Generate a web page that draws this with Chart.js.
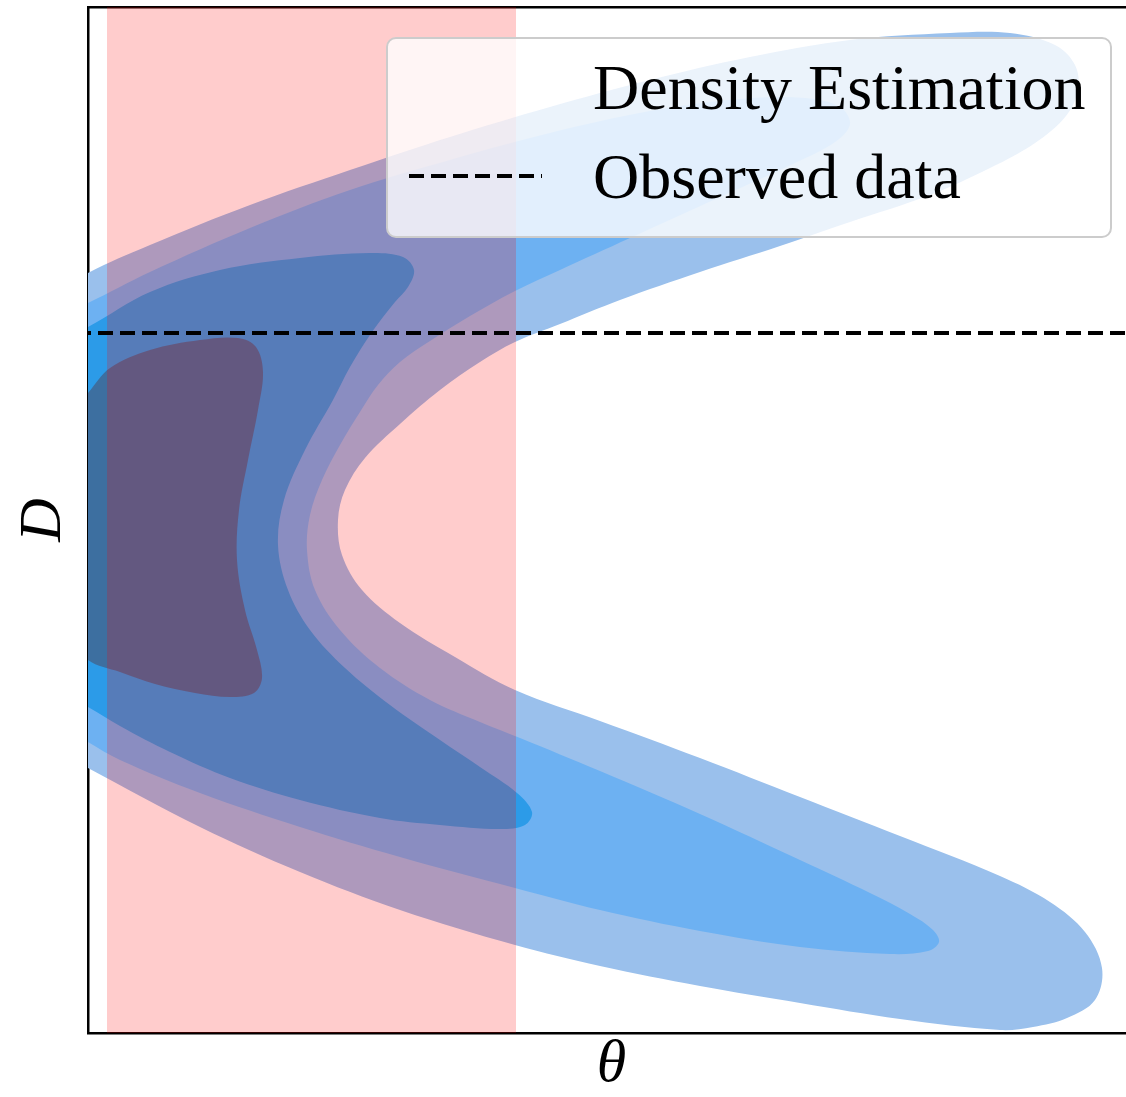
<!DOCTYPE html>
<html>
<head>
<meta charset="utf-8">
<script src="https://cdn.jsdelivr.net/npm/chart.js@4.4.0/dist/chart.umd.min.js"></script>
<style>
    html, body { margin: 0; padding: 0; background: #fff; overflow: hidden; }
</style>
</head>
<body>
<canvas id="kdeCanvas" width="1140" height="1097"></canvas>
<script>
// density estimate contours, outer -> inner, as [theta, D] pairs
var level1 = [
    [-0.48, 5.13], [-0.43, 7.33], [0, 7.60], [0.62, 7.88], [1.62, 8.28], [2.62, 8.63],
    [3.62, 8.96], [4.62, 9.26], [5.62, 9.53], [6.62, 9.76], [7.62, 9.93], [8.62, 10.00],
    [9.22, 10.00], [9.67, 9.88], [9.87, 9.68], [9.90, 9.43], [9.78, 9.17], [9.47, 8.90],
    [9.02, 8.65], [8.42, 8.38], [7.62, 8.11], [6.92, 7.87], [6.12, 7.61], [5.32, 7.33],
    [4.72, 7.09], [4.27, 6.91], [3.92, 6.71], [3.52, 6.43], [3.12, 6.09], [2.77, 5.75],
    [2.57, 5.43], [2.50, 5.13], [2.54, 4.78], [2.74, 4.43], [3.12, 4.10], [3.67, 3.76],
    [4.27, 3.43], [5.12, 3.12], [6.12, 2.75], [7.12, 2.36], [8.12, 1.97], [9.12, 1.57],
    [9.62, 1.31], [9.97, 1.01], [10.14, 0.65], [10.07, 0.33], [9.79, 0.15], [9.45, 0.06],
    [9.12, 0.03], [8.12, 0.14], [7.12, 0.30], [6.12, 0.47], [5.12, 0.67], [4.27, 0.88],
    [3.12, 1.23], [2.12, 1.61], [1.12, 2.06], [0, 2.65], [-0.43, 2.88], [-0.48, 5.13]
];
var level2 = [
    [-0.43, 5.13], [-0.38, 7.13], [0, 7.30], [0.62, 7.61], [1.62, 8.05], [2.62, 8.43],
    [3.62, 8.73], [4.62, 9.00], [5.62, 9.22], [6.52, 9.34], [7.17, 9.35], [7.52, 9.26],
    [7.62, 9.09], [7.47, 8.91], [7.07, 8.70], [6.32, 8.36], [5.42, 7.95], [4.72, 7.63],
    [4.27, 7.42], [3.82, 7.17], [3.42, 6.92], [3.12, 6.71], [2.90, 6.48], [2.72, 6.21],
    [2.52, 5.88], [2.34, 5.53], [2.22, 5.18], [2.19, 4.83], [2.27, 4.43], [2.52, 4.03],
    [2.92, 3.65], [3.42, 3.33], [3.92, 3.11], [4.32, 2.95], [5.12, 2.62], [6.12, 2.19],
    [7.12, 1.73], [7.82, 1.40], [8.22, 1.19], [8.45, 1.03], [8.51, 0.91], [8.40, 0.82],
    [8.02, 0.79], [7.12, 0.86], [6.12, 1.02], [5.12, 1.23], [4.27, 1.45], [3.12, 1.76],
    [2.12, 2.06], [1.12, 2.40], [0.32, 2.73], [0, 2.91], [-0.38, 3.15], [-0.43, 5.13]
];
var level3 = [
    [-0.43, 5.13], [-0.38, 6.88], [0, 7.06], [0.62, 7.41], [1.32, 7.63], [2.12, 7.75],
    [2.82, 7.80], [3.15, 7.76], [3.26, 7.63], [3.20, 7.46], [3.07, 7.31], [2.84, 7.01],
    [2.62, 6.66], [2.45, 6.33], [2.17, 5.83], [1.96, 5.33], [1.90, 4.88], [2.00, 4.43],
    [2.22, 4.03], [2.57, 3.65], [3.02, 3.28], [3.52, 2.93], [3.92, 2.66], [4.29, 2.40],
    [4.44, 2.21], [4.37, 2.08], [4.12, 2.04], [3.52, 2.08], [2.92, 2.15], [2.12, 2.33],
    [1.42, 2.55], [0.82, 2.81], [0.32, 3.07], [0, 3.26], [-0.38, 3.45], [-0.43, 5.13]
];
var level4 = [
    [-0.28, 5.13], [-0.23, 6.13], [0, 6.40], [0.22, 6.65], [0.62, 6.83], [1.12, 6.93],
    [1.50, 6.95], [1.68, 6.86], [1.75, 6.61], [1.70, 6.23], [1.60, 5.73], [1.51, 5.23],
    [1.49, 4.73], [1.57, 4.23], [1.69, 3.83], [1.74, 3.55], [1.66, 3.40], [1.42, 3.36],
    [1.07, 3.40], [0.67, 3.49], [0.32, 3.61], [0, 3.73], [-0.23, 4.03], [-0.28, 5.13]
];
var observedD = 7.0;          // observed data value of D
var priorBand = [0.19, 4.28]; // shaded theta interval
var thetaRange = [0, 10.47];
var dRange = [0, 10.26];

var levelColors = ['#9ac0ec', '#6db1f2', '#2c9be8', '#3d6fa0'];

function toPoints(arr) {
    return arr.map(function (p) { return { x: p[0], y: p[1] }; });
}

var contourSets = [level1, level2, level3, level4].map(function (lvl, i) {
    return {
        label: i === 0 ? 'Density Estimation' : '',
        data: toPoints(lvl),
        showLine: true,
        fill: 'shape',
        backgroundColor: levelColors[i],
        borderWidth: 0,
        pointRadius: 0,
        tension: 0.35,
        order: 5 - i
    };
});

var bandSet = {
    label: '',
    data: toPoints([
        [priorBand[0], dRange[0] - 1], [priorBand[1], dRange[0] - 1],
        [priorBand[1], dRange[1] + 1], [priorBand[0], dRange[1] + 1], [priorBand[0], dRange[0] - 1]
    ]),
    showLine: true,
    fill: 'shape',
    backgroundColor: 'rgba(255, 0, 0, 0.2)',
    borderWidth: 0,
    pointRadius: 0,
    tension: 0,
    order: 1
};

var observedSet = {
    label: 'Observed data',
    data: toPoints([[thetaRange[0] - 1, observedD], [thetaRange[1] + 1, observedD]]),
    showLine: true,
    fill: false,
    borderColor: '#000',
    borderWidth: 4,
    borderDash: [15, 7],
    pointRadius: 0,
    order: 0
};

// matplotlib style legend box, drawn in the upper right of the axes
var legendBox = {
    id: 'legendBox',
    afterDraw: function (chart) {
        var ctx = chart.ctx;
        var area = chart.chartArea;
        var w = 724, h = 199;
        var left = area.right - 24 - w;
        var top = area.top + 31;
        ctx.save();
        ctx.beginPath();
        ctx.roundRect(left, top, w, h, 9);
        ctx.fillStyle = 'rgba(255, 255, 255, 0.8)';
        ctx.fill();
        ctx.lineWidth = 2;
        ctx.strokeStyle = '#cccccc';
        ctx.stroke();

        // dashed sample for observed data
        ctx.beginPath();
        ctx.setLineDash(observedSet.borderDash);
        ctx.lineWidth = observedSet.borderWidth;
        ctx.strokeStyle = '#000';
        ctx.moveTo(left + 22, top + 138);
        ctx.lineTo(left + 155, top + 138);
        ctx.stroke();
        ctx.setLineDash([]);

        ctx.fillStyle = '#000';
        ctx.font = '64px "Liberation Serif", serif';
        ctx.textBaseline = 'alphabetic';
        ctx.fillText(contourSets[0].label, left + 206, top + 71);
        ctx.fillText(observedSet.label, left + 206, top + 160);
        ctx.restore();
    }
};

var hiddenGrid = { display: false, drawTicks: false, tickLength: 0 };
var axisBorder = { color: '#000', width: 2.5 };
var titleFont = { family: '"Liberation Serif", serif', size: 60, style: 'italic', lineHeight: 1 };

window.onload = function () {
    var ctx = document.getElementById('kdeCanvas').getContext('2d');
    window.kdeChart = new Chart(ctx, {
        type: 'scatter',
        data: {
            datasets: [observedSet, bandSet].concat(contourSets)
        },
        options: {
            responsive: false,
            animation: false,
            layout: { padding: { top: 7, right: 5, left: 0, bottom: 0 } },
            elements: { line: { capBezierPoints: false } },
            plugins: {
                legend: { display: false },
                tooltip: { enabled: false }
            },
            scales: {
                x: {
                    type: 'linear',
                    min: thetaRange[0],
                    max: thetaRange[1],
                    grid: hiddenGrid,
                    ticks: { display: false },
                    border: axisBorder,
                    title: {
                        display: true,
                        text: 'θ',
                        color: '#000',
                        font: titleFont,
                        padding: { top: 2, bottom: 2 }
                    }
                },
                xTop: {
                    type: 'linear',
                    position: 'top',
                    min: 0,
                    max: 1,
                    grid: hiddenGrid,
                    ticks: { display: false },
                    border: axisBorder
                },
                y: {
                    type: 'linear',
                    min: dRange[0],
                    max: dRange[1],
                    grid: hiddenGrid,
                    ticks: { display: false },
                    border: axisBorder,
                    title: {
                        display: true,
                        text: 'D',
                        color: '#000',
                        font: titleFont,
                        padding: { top: 14, bottom: 14 }
                    }
                }
            }
        },
        plugins: [legendBox]
    });
};
</script>
</body>
</html>
